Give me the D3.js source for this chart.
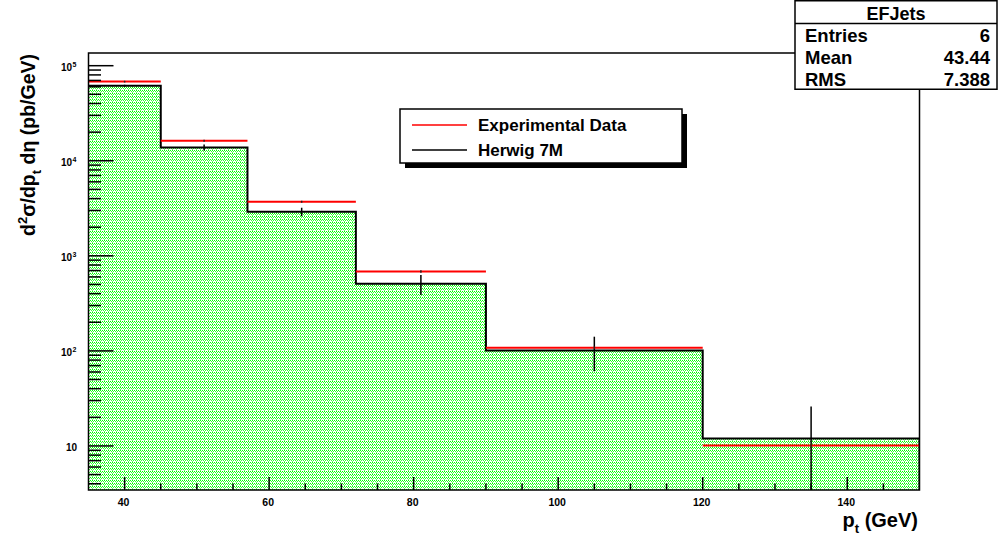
<!DOCTYPE html>
<html><head><meta charset="utf-8">
<script src="https://cdn.jsdelivr.net/npm/d3@7"></script>
<style>
body{margin:0;background:#fff;}
svg{display:block;font-family:"Liberation Sans",Arial,Helvetica,sans-serif;font-weight:bold;}
</style></head>
<body><svg id="c" width="998" height="539"></svg>
<script>
// ---- data ----
const binEdges = [35, 45, 57, 72, 90, 120, 150];
const herwigValues = [61600, 13800, 2900, 507, 101, 12.0];
const herwigErrors = [1500, 1000, 300, 120, 40, 14];
const expValues = [68000, 16200, 3700, 684, 108, 10.1];
const expErrors = [1500, 400, 90, 20, 3, 0.3];
const xMajorTicks = [40, 60, 80, 100, 120, 140];
const xMinorStep = 5;
const yMajorTicks = [10, 100, 1000, 10000, 100000];
const yTickLabels = [["10", ""], ["10", "2"], ["10", "3"], ["10", "4"], ["10", "5"]];
const xDomain = [35, 150];
const yDomain = [3.44, 1.36e5];
const legendLabels = ["Experimental Data", "Herwig 7M"];
const statsTitle = "EFJets";
const statsRows = [["Entries", "6"], ["Mean", "43.44"], ["RMS", "7.388"]];

// ---- layout ----
const L = 88.5, R = 919.5, T = 53, B = 490;
const svg = d3.select("#c");
const x = d3.scaleLinear().domain(xDomain).range([L, R]);
const y = d3.scaleLog().domain(yDomain).range([B, T]);

const defs = svg.append("defs");
const pat = defs.append("pattern").attr("id", "dots").attr("patternUnits", "userSpaceOnUse")
  .attr("width", 4).attr("height", 3);
pat.append("rect").attr("width", 4).attr("height", 3).attr("fill", "#fff");
pat.append("rect").attr("x", 0).attr("y", 0).attr("width", 1).attr("height", 1).attr("fill", "#00ff00");
pat.append("rect").attr("x", 2).attr("y", 0).attr("width", 1).attr("height", 1).attr("fill", "#00ff00");
pat.append("rect").attr("x", 1).attr("y", 1).attr("width", 1).attr("height", 1).attr("fill", "#33ff33");
pat.append("rect").attr("x", 3).attr("y", 1).attr("width", 1).attr("height", 1).attr("fill", "#33ff33");
pat.append("rect").attr("x", 0).attr("y", 2).attr("width", 1).attr("height", 1).attr("fill", "#66ff66");
defs.append("clipPath").attr("id", "frameClip").append("rect")
  .attr("x", L).attr("y", T).attr("width", R - L).attr("height", B - T);

const bins = herwigValues.map((v, i) => ({x0: binEdges[i], x1: binEdges[i + 1], v, e: herwigErrors[i], d: expValues[i], de: expErrors[i]}));

const g = svg.append("g").attr("clip-path", "url(#frameClip)");

// filled step area
const stepPts = [];
bins.forEach(b => { stepPts.push([x(b.x0), y(b.v)]); stepPts.push([x(b.x1), y(b.v)]); });
const areaGen = d3.area().x(d => d[0]).y0(B).y1(d => d[1]);
g.append("path").datum(stepPts).attr("d", areaGen).attr("fill", "url(#dots)");

// black outline
const outline = stepPts.concat([[x(binEdges[binEdges.length - 1]), B]]);
g.append("path").datum(outline).attr("d", d3.line()).attr("fill", "none")
  .attr("stroke", "#000").attr("stroke-width", 2);

// herwig error bars
g.selectAll(".eb").data(bins).join("line")
  .attr("x1", b => x((b.x0 + b.x1) / 2)).attr("x2", b => x((b.x0 + b.x1) / 2))
  .attr("y1", b => y(b.v + b.e)).attr("y2", b => y(Math.max(b.v - b.e, yDomain[0] * 0.5)))
  .attr("stroke", "#000").attr("stroke-width", 1.5);

// experimental data red horizontal lines
g.selectAll(".red").data(bins).join("line")
  .attr("x1", b => x(b.x0)).attr("x2", b => x(b.x1))
  .attr("y1", b => y(b.d)).attr("y2", b => y(b.d))
  .attr("stroke", "#ff0000").attr("stroke-width", 2);
g.selectAll(".rb").data(bins).join("line")
  .attr("x1", b => x((b.x0 + b.x1) / 2)).attr("x2", b => x((b.x0 + b.x1) / 2))
  .attr("y1", b => y(b.d + b.de)).attr("y2", b => y(b.d - b.de))
  .attr("stroke", "#222").attr("stroke-width", 1.5);

// frame
svg.append("rect").attr("x", L).attr("y", T).attr("width", R - L).attr("height", B - T)
  .attr("fill", "none").attr("stroke", "#000").attr("stroke-width", 1.5);

// x axis ticks (inside, upward)
const xMinor = d3.range(xDomain[0] + xMinorStep, xDomain[1], xMinorStep).filter(v => !xMajorTicks.includes(v));
const xAx = svg.append("g");
xAx.selectAll(".xm").data(xMinor).join("line")
  .attr("x1", d => x(d)).attr("x2", d => x(d)).attr("y1", B).attr("y2", B - 6.5)
  .attr("stroke", "#000").attr("stroke-width", 1.5);
xAx.selectAll(".xM").data(xMajorTicks).join("line")
  .attr("x1", d => x(d)).attr("x2", d => x(d)).attr("y1", B).attr("y2", B - 13)
  .attr("stroke", "#000").attr("stroke-width", 1.5);
xAx.selectAll(".xl").data(xMajorTicks).join("text")
  .attr("x", d => x(d) - 1).attr("y", 506).attr("text-anchor", "middle")
  .attr("font-size", 10.5).text(d => d);

// y axis ticks (inside, rightward)
const yMinor = [];
for (let k = 0; k <= 5; k++) for (let m = 2; m <= 9; m++) {
  const v = m * Math.pow(10, k);
  if (v >= yDomain[0] && v <= yDomain[1]) yMinor.push(v);
}
const yAx = svg.append("g");
yAx.selectAll(".ym").data(yMinor).join("line")
  .attr("x1", L).attr("x2", L + 12.5).attr("y1", d => y(d)).attr("y2", d => y(d))
  .attr("stroke", "#000").attr("stroke-width", 1.5);
yAx.selectAll(".yM").data(yMajorTicks).join("line")
  .attr("x1", L).attr("x2", L + 25).attr("y1", d => y(d)).attr("y2", d => y(d))
  .attr("stroke", "#000").attr("stroke-width", 1.5);
yMajorTicks.forEach((v, i) => {
  const [base, ex] = yTickLabels[i];
  const t = yAx.append("text").attr("x", ex ? 72 : 77).attr("y", y(v) + 5.5)
    .attr("text-anchor", "end").attr("font-size", 10);
  t.append("tspan").text(base);
  if (ex) yAx.append("text").attr("x", 72.5).attr("y", y(v) + 1).attr("font-size", 7).text(ex);
});

// y title
const yt = svg.append("text").attr("transform", `translate(35,${T + 1}) rotate(-90)`)
  .attr("text-anchor", "end").attr("font-size", 19.5);
yt.append("tspan").text("d");
yt.append("tspan").attr("font-size", 13).attr("dy", -8).text("2");
yt.append("tspan").attr("dy", 8).text("σ/dp");
yt.append("tspan").attr("font-size", 13).attr("dy", 6).text("t");
yt.append("tspan").attr("dy", -6).text(" dη (pb/GeV)");

// x title
const xt = svg.append("text").attr("x", 918).attr("y", 527).attr("text-anchor", "end").attr("font-size", 20);
xt.append("tspan").text("p");
xt.append("tspan").attr("font-size", 13).attr("dy", 6).text("t");
xt.append("tspan").attr("dy", -6).text(" (GeV)");

// legend
const lg = svg.append("g");
const lx = 400, ly = 109, lw = 282, lh = 54;
lg.append("rect").attr("x", lx + 5).attr("y", ly + 5).attr("width", lw).attr("height", lh).attr("fill", "#000");
lg.append("rect").attr("x", lx).attr("y", ly).attr("width", lw).attr("height", lh)
  .attr("fill", "#fff").attr("stroke", "#000").attr("stroke-width", 1.5);
const lcol = ["#ff0000", "#000"];
legendLabels.forEach((s, i) => {
  const yy = 125 + i * 25;
  lg.append("line").attr("x1", 412).attr("x2", 467).attr("y1", yy).attr("y2", yy)
    .attr("stroke", lcol[i]).attr("stroke-width", 1.5);
  lg.append("text").attr("x", 478).attr("y", yy + 6).attr("font-size", 17).text(s);
});

// stats box
const sb = svg.append("g");
sb.append("rect").attr("x", 795).attr("y", 0.75).attr("width", 202).attr("height", 88.5)
  .attr("fill", "#fff").attr("stroke", "#000").attr("stroke-width", 1.5);
sb.append("line").attr("x1", 795).attr("x2", 997).attr("y1", 23.5).attr("y2", 23.5)
  .attr("stroke", "#000").attr("stroke-width", 1.5);
sb.append("text").attr("x", 896).attr("y", 20).attr("text-anchor", "middle").attr("font-size", 18).text(statsTitle);
statsRows.forEach((r, i) => {
  const yy = 41.5 + i * 22;
  sb.append("text").attr("x", 805).attr("y", yy).attr("font-size", 18.5).text(r[0]);
  sb.append("text").attr("x", 990).attr("y", yy).attr("text-anchor", "end").attr("font-size", 18.5).text(r[1]);
});
</script></body></html>
